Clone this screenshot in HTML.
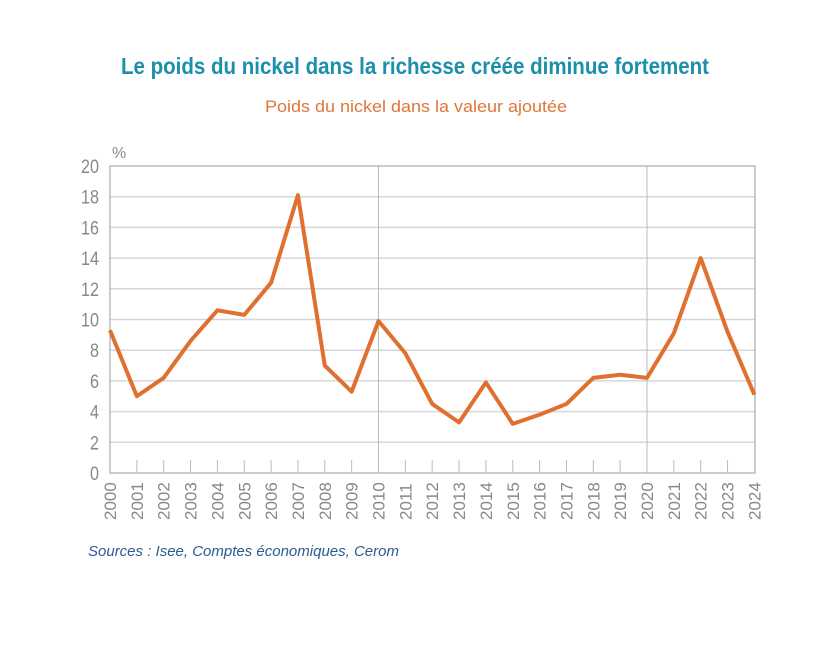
<!DOCTYPE html>
<html><head><meta charset="utf-8"><style>
body{margin:0;background:#fff;}
svg text{font-family:"Liberation Sans Narrow","Liberation Sans",sans-serif;}
</style></head><body>
<svg width="835" height="642" viewBox="0 0 835 642" xmlns="http://www.w3.org/2000/svg">
<rect width="835" height="642" fill="#fff"/>
<text x="121" y="74" textLength="588" lengthAdjust="spacingAndGlyphs" font-size="23" font-weight="bold" fill="#1b8fab">Le poids du nickel dans la richesse créée diminue fortement</text>
<text x="265" y="112" textLength="302" lengthAdjust="spacingAndGlyphs" font-size="17" fill="#e0763a">Poids du nickel dans la valeur ajoutée</text>
<text x="112" y="158" font-size="16" fill="#888">%</text>
<g stroke="#d6d6d6" stroke-width="1.5">
<line x1="110" x2="755" y1="196.7" y2="196.7"/><line x1="110" x2="755" y1="227.4" y2="227.4"/>
<line x1="110" x2="755" y1="258.1" y2="258.1"/><line x1="110" x2="755" y1="288.8" y2="288.8"/>
<line x1="110" x2="755" y1="319.5" y2="319.5"/><line x1="110" x2="755" y1="350.2" y2="350.2"/>
<line x1="110" x2="755" y1="380.9" y2="380.9"/><line x1="110" x2="755" y1="411.6" y2="411.6"/>
<line x1="110" x2="755" y1="442.3" y2="442.3"/>
</g>
<g stroke="#bbb" stroke-width="1"><line x1="378.5" x2="378.5" y1="166" y2="473"/><line x1="647" x2="647" y1="166" y2="473"/></g>
<rect x="110" y="166" width="645" height="307" fill="none" stroke="#aaa" stroke-width="1.2"/>
<g stroke="#bbb" stroke-width="1" id="ticks"></g>
<g font-size="19" fill="#888" text-anchor="end" id="yl"></g>
<g font-size="17" fill="#888" id="xl"></g>
<polyline id="ln" fill="none" stroke="#e0702f" stroke-width="4" stroke-linejoin="round"/>
<text x="88" y="556" font-size="15" font-style="italic" fill="#2c5d8f" font-family="Liberation Sans, sans-serif">Sources : Isee, Comptes économiques, Cerom</text>
<script>
var v=[9.3,5.0,6.2,8.6,10.6,10.3,12.4,18.1,7.0,5.3,9.9,7.8,4.5,3.3,5.9,3.2,3.8,4.5,6.2,6.4,6.2,9.1,14.0,9.2,5.1];
var ns="http://www.w3.org/2000/svg",pts=[];
function X(i){return 110+i*26.85;}function Y(d){return 473-d*15.35;}
for(var i=0;i<25;i++){pts.push(X(i)+","+Y(v[i]));
 if(i>0&&i<24&&i!=10&&i!=20){var l=document.createElementNS(ns,"line");l.setAttribute("x1",X(i));l.setAttribute("x2",X(i));l.setAttribute("y1",460);l.setAttribute("y2",473);document.getElementById("ticks").appendChild(l);}
 var t=document.createElementNS(ns,"text");t.setAttribute("transform","translate("+(X(i)+6)+",520) rotate(-90)");t.textContent=2000+i;document.getElementById("xl").appendChild(t);}
document.getElementById("ln").setAttribute("points",pts.join(" "));
for(var k=0;k<=10;k++){var t=document.createElementNS(ns,"text");t.setAttribute("x",99);t.setAttribute("y",Y(k*2)+7);t.setAttribute("transform","translate(99,0) scale(0.85,1) translate(-99,0)");t.textContent=k*2;document.getElementById("yl").appendChild(t);}
</script>
</svg>
</body></html>
